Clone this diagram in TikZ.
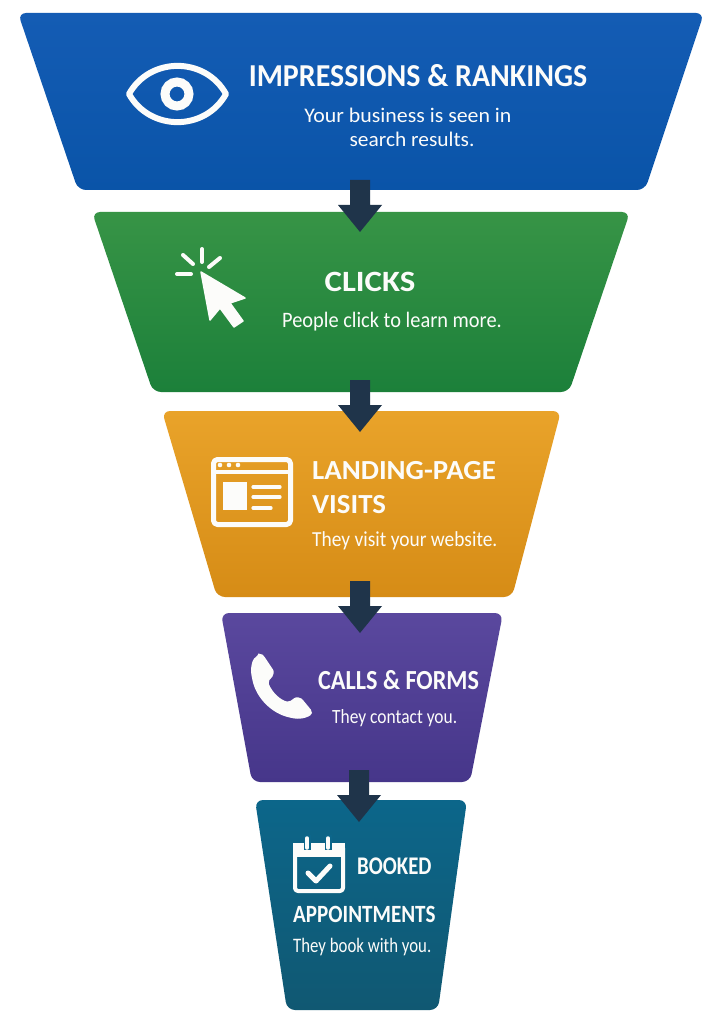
\documentclass[tikz,border=0pt]{standalone}
\usepackage{fontspec}
\setmainfont{Carlito}
\definecolor{bluetop}{RGB}{20,92,180}
\definecolor{bluebot}{RGB}{10,84,168}
\definecolor{greentop}{RGB}{55,148,70}
\definecolor{greenbot}{RGB}{28,128,58}
\definecolor{orangetop}{RGB}{233,163,42}
\definecolor{orangebot}{RGB}{214,140,22}
\definecolor{purpletop}{RGB}{90,72,158}
\definecolor{purplebot}{RGB}{70,54,138}
\definecolor{tealtop}{RGB}{12,102,138}
\definecolor{tealbot}{RGB}{16,88,114}
\definecolor{arrowcol}{RGB}{31,52,74}
\definecolor{txt}{RGB}{252,252,250}
\tikzset{
  stage/.style={rounded corners=8pt},
  titletext/.style={text=txt,font=\bfseries\fontsize{31}{34}\selectfont,inner sep=0pt},
  subtext/.style={text=txt,font=\fontsize{21}{24}\selectfont,inner sep=0pt},
  icon/.style={draw=txt,line cap=round,line join=round},
  funnelarrow/.pic={\fill[arrowcol] (-10,0) -- (10,0) -- (10,25) -- (22,25) -- (0,52) -- (-22,25) -- (-10,25) -- cycle;}
}
\begin{document}
\begin{tikzpicture}[x=1pt,y=-1pt]
\useasboundingbox (0,0) rectangle (722,1024);
\fill[white] (0,0) rectangle (722,1024);
% stages
\path[stage,top color=bluetop,bottom color=bluebot] (18,13) -- (704,13) -- (645,190) -- (78,190) -- cycle;
\path[stage,top color=greentop,bottom color=greenbot] (92,212) -- (630,212) -- (569,392) -- (153,392) -- cycle;
\path[stage,top color=orangetop,bottom color=orangebot] (162,411) -- (561,411) -- (512,597) -- (217,597) -- cycle;
\path[stage,top color=purpletop,bottom color=purplebot] (221,613) -- (503,613) -- (470,782) -- (252,782) -- cycle;
\path[stage,top color=tealtop,bottom color=tealbot] (255,800) -- (467,800) -- (438,1010) -- (287,1010) -- cycle;
% arrows
\coordinate (a1) at (360,180);
\coordinate (a2) at (360,380);
\coordinate (a3) at (360,581);
\coordinate (a4) at (359,770);
\pic at (a1) {funnelarrow};
\pic at (a2) {funnelarrow};
\pic at (a3) {funnelarrow};
\pic at (a4) {funnelarrow};
% stage 1
\draw[icon,line width=6] (129,94) .. controls (150,56.5) and (205,56.5) .. (226,94) .. controls (205,131.5) and (150,131.5) .. (129,94) -- cycle;
\draw[draw=txt,line width=9] (177,94) circle (12);
\node[titletext,anchor=base] (t1) at (418,87) {\scalebox{0.966}[1.03]{IMPRESSIONS \& RANKINGS}};
\node[subtext,anchor=base] (s1a) at (408,123) {\scalebox{1.04}[0.99]{Your business is seen in}};
\node[subtext,anchor=base] (s1b) at (412,147) {\scalebox{1.02}[0.99]{search results.}};
% stage 2
\fill[txt,draw=txt,line width=1.5,line join=round] (201,272) -- (210,320) -- (220,308) -- (234,327) -- (243,321) -- (230,303) -- (245,298) -- cycle;
\draw[icon,line width=4] (177,274) -- (191,274);
\draw[icon,line width=4] (202,249) -- (202,262);
\draw[icon,line width=4] (183,255) -- (193,264);
\draw[icon,line width=4] (209,267) -- (220,258);
\node[titletext,anchor=base] (t2) at (370,291) {\scalebox{1.06}[0.95]{CLICKS}};
\node[subtext,anchor=base] (s2) at (392,327) {\scalebox{0.97}[1.05]{People click to learn more.}};
% stage 3
\draw[icon,line width=5,rounded corners=4] (213.5,459.5) rectangle (290.5,524.5);
\draw[icon,line width=4] (213,472) -- (291,472);
\fill[txt] (220,465) circle (2.3) (229,465) circle (2.3) (238,465) circle (2.3);
\fill[txt] (223,482) rectangle (247,510);
\draw[icon,line width=3.2] (253,487) -- (280,487) (253,497) -- (280,497) (253,508) -- (271,508);
\node[titletext,anchor=base west] (t3a) at (312,479) {\scalebox{0.93}[0.89]{LANDING-PAGE}};
\node[titletext,anchor=base west] (t3b) at (312,513) {\scalebox{0.93}[0.89]{VISITS}};
\node[subtext,anchor=base west] (s3) at (312,546) {\scalebox{0.925}[1.02]{They visit your website.}};
% stage 4
\fill[txt,rounded corners=2] (259,655) .. controls (252,658) and (250,668) .. (252,678)
  .. controls (256,698) and (272,714) .. (292,718)
  .. controls (302,720) and (312,716) .. (312,711)
  -- (303,700) .. controls (300,697) and (296,697) .. (293,699)
  -- (289,702) .. controls (280,700) and (272,692) .. (268,682)
  -- (271,678) .. controls (274,675) and (274,671) .. (272,668)
  -- (264,656) .. controls (263,655) and (261,654) .. (259,655) -- cycle;
\node[titletext,anchor=base west] (t4) at (318,689) {\scalebox{0.78}[0.89]{CALLS \& FORMS}};
\node[subtext,anchor=base west] (s4) at (332,723) {\scalebox{0.83}[0.96]{They contact you.}};
% stage 5
\draw[icon,line width=4,rounded corners=3] (295,845) rectangle (343,891);
\fill[txt] (293,843) rectangle (345,857);
\draw[tealtop,line width=7] (307,835) -- (307,850) (328,835) -- (328,850);
\draw[icon,line width=3.5] (307,838) -- (307,848) (328,838) -- (328,848);
\draw[icon,line width=5] (308,873) -- (316,881) -- (330,866);
\node[titletext,anchor=base west] (t5a) at (357,874) {\scalebox{0.67}[0.82]{BOOKED}};
\node[titletext,anchor=base west] (t5b) at (293,922) {\scalebox{0.68}[0.8]{APPOINTMENTS}};
\node[subtext,anchor=base west] (s5) at (293,952) {\scalebox{0.80}[0.98]{They book with you.}};
\end{tikzpicture}
\end{document}
